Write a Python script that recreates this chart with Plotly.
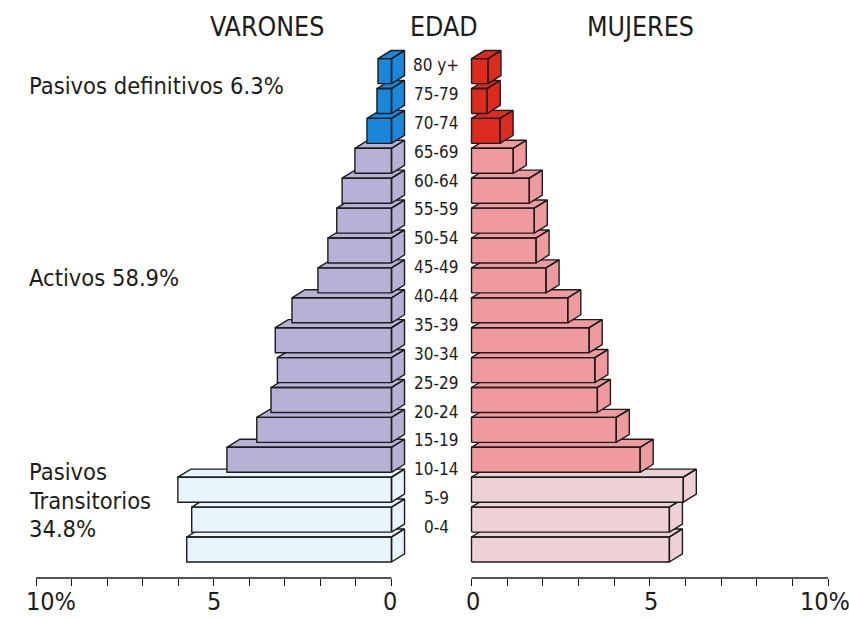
import plotly.graph_objects as go

# Age groups, bottom to top
ages = ["0-4", "5-9", "10-14", "15-19", "20-24", "25-29", "30-34", "35-39",
        "40-44", "45-49", "50-54", "55-59", "60-64", "65-69", "70-74", "75-79", "80 y+"]

# Percentage of total population
varones = [5.76, 5.62, 6.01, 4.63, 3.79, 3.39, 3.21, 3.27, 2.80,
           2.07, 1.79, 1.54, 1.39, 1.03, 0.69, 0.41, 0.38]
mujeres = [5.55, 5.55, 5.94, 4.73, 4.06, 3.53, 3.46, 3.30, 2.70,
           2.09, 1.81, 1.76, 1.62, 1.17, 0.80, 0.44, 0.46]

# Dependency group of each age row
grupo = ["trans"] * 3 + ["activo"] * 11 + ["def"] * 3

colores_v = {"trans": "#E8F4FB", "activo": "#B9B0D6", "def": "#1A87DB"}
colores_m = {"trans": "#EDD1D5", "activo": "#EE9A9E", "def": "#DC2B1E"}

x_ticks = list(range(0, 11))

FONT = "Liberation Sans Narrow, Arial Narrow, DejaVu Sans Condensed, sans-serif"
INK = "#1c1c1c"

H = 0.418   # half thickness of each bar (row units)
DY = 0.27   # depth of the box, vertical (row units)
DX = 0.366  # depth of the box, horizontal (x units)

fig = go.Figure()


def box(v, k, side):
    """Front, top and side faces of a 3D bar as one closed path set."""
    y0, y1, y2 = k - H, k + H, k + H + DY
    d = -DX if side == "left" else DX
    if side == "left":
        # side face sits next to the centre column (x = 0)
        xs = [0, v, v, 0, 0, None,
              v, 0, d, v + d, v, None,
              0, 0, d, d, 0]
        ys = [y0, y0, y1, y1, y0, None,
              y1, y1, y2, y2, y1, None,
              y0, y1, y2, y0 + DY, y0]
    else:
        xs = [0, v, v, 0, 0, None,
              0, v, v + d, d, 0, None,
              v, v, v + d, v + d, v]
        ys = [y0, y0, y1, y1, y0, None,
              y1, y1, y2, y2, y1, None,
              y0, y1, y2, y0 + DY, y0]
    return xs, ys


# draw from the bottom row upwards so upper boxes sit in front
for k in range(len(ages)):
    for side, vals, cols, xa in (("left", varones, colores_v, "x"),
                                 ("right", mujeres, colores_m, "x2")):
        xs, ys = box(vals[k], k, side)
        fig.add_trace(go.Scatter(
            x=xs, y=ys, xaxis=xa, yaxis="y", mode="lines",
            fill="toself", fillcolor=cols[grupo[k]],
            line=dict(color=INK, width=1.4),
            hoverinfo="skip", showlegend=False))

W, HT = 849, 619


def py(px):
    return 1 - px / HT


axis_common = dict(showgrid=False, zeroline=False, showline=False,
                   showticklabels=False, ticks="outside", ticklen=7,
                   tickwidth=1.4, tickcolor=INK, tickvals=x_ticks,
                   fixedrange=True)

fig.update_layout(
    width=W, height=HT,
    margin=dict(l=0, r=0, t=0, b=0),
    paper_bgcolor="white", plot_bgcolor="white",
    xaxis=dict(domain=[20 / W, 410 / W], range=[10.450, -0.520],
               anchor="y", **axis_common),
    xaxis2=dict(domain=[440 / W, 1.0], range=[-0.884, 10.589],
                anchor="y", **axis_common),
    yaxis=dict(domain=[py(578), py(30)], range=[-0.953, 17.375],
               visible=False, fixedrange=True),
    # evenly spaced axis used for the age labels of the centre column
    yaxis3=dict(domain=[py(578), py(30)], range=[-1.766, 17.212],
                overlaying="y", visible=False, fixedrange=True),
)

# base lines of both scales
for xr in ("x", "x2"):
    fig.add_shape(type="line", xref=xr, yref="paper",
                  x0=0, x1=10, y0=py(578), y1=py(578),
                  line=dict(color=INK, width=1.4))

ann = []

# centre column of age labels
for k, a in enumerate(ages):
    ann.append(dict(x=436 / W, xref="paper", y=k, yref="y3", text=a,
                    showarrow=False, xanchor="center", yanchor="middle",
                    font=dict(family=FONT, size=17, color=INK)))

# scale labels
escala = [("x", 10, "10%", 15), ("x", 5, "5", 0), ("x", 0, "0", -2),
          ("x2", 0, "0", 1), ("x2", 5, "5", 1), ("x2", 10, "10%", -3)]
for xr, xv, t, sh in escala:
    ann.append(dict(x=xv, xref=xr, y=py(618), yref="paper", text=t,
                    xshift=sh, showarrow=False, xanchor="center",
                    yanchor="bottom",
                    font=dict(family=FONT, size=25, color=INK)))

# column headings
for t, xc in (("VARONES", 267), ("EDAD", 444), ("MUJERES", 640)):
    ann.append(dict(x=xc / W, xref="paper", y=py(27), yref="paper", text=t,
                    showarrow=False, xanchor="center", yanchor="middle",
                    font=dict(family=FONT, size=26.5, color=INK)))

# dependency group captions
for t, yc in (("Pasivos definitivos 6.3%", 86), ("Activos 58.9%", 278),
              ("Pasivos", 472), ("Transitorios", 501), ("34.8%", 529)):
    ann.append(dict(x=27 / W, xref="paper", y=py(yc), yref="paper", text=t,
                    showarrow=False, xanchor="left", yanchor="middle",
                    font=dict(family=FONT, size=23.5, color=INK)))

fig.update_layout(annotations=ann)

fig.write_html("out.html")
